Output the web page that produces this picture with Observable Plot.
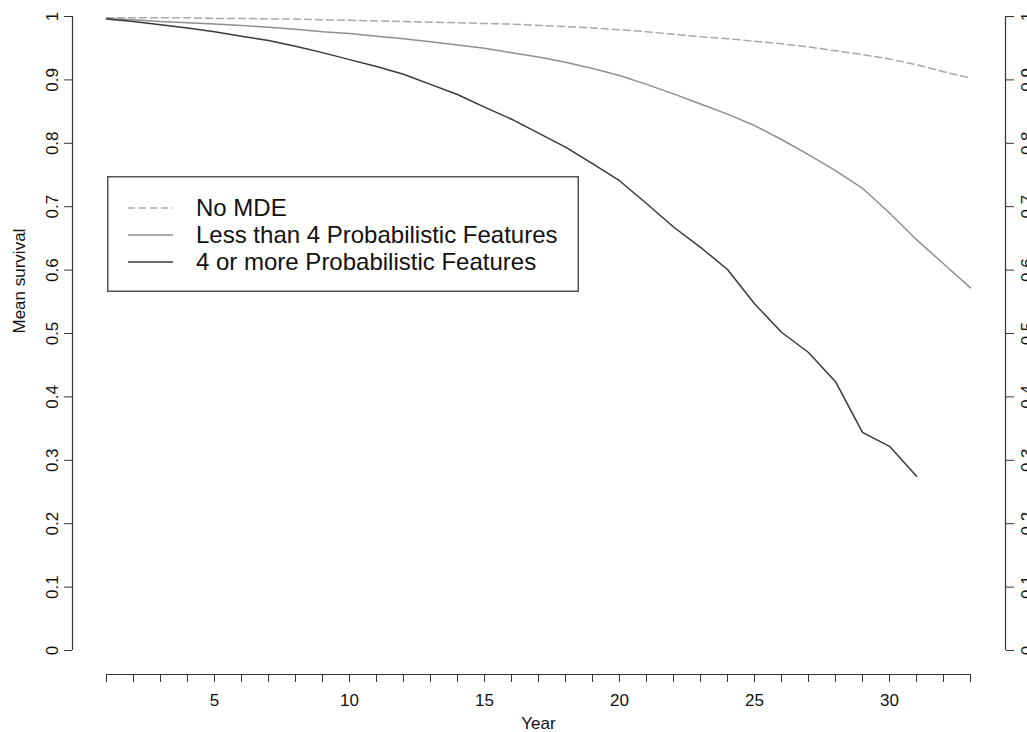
<!DOCTYPE html>
<html>
<head>
<meta charset="utf-8">
<script src="https://cdn.jsdelivr.net/npm/d3@7"></script>
<script src="https://cdn.jsdelivr.net/npm/@observablehq/plot@0.6"></script>
<style>
  html, body { margin: 0; padding: 0; background: #fff; }
  #wrap { position: relative; width: 1027px; height: 732px; overflow: hidden; font-family: "Liberation Sans", Arial, Helvetica, sans-serif; }
  #wrap svg { display: block; }
  #legend { position: absolute; left: 107px; top: 176px; }
</style>
</head>
<body>
<div id="wrap"></div>
<script>
// ---- data ----
const years = [1,2,3,4,5,6,7,8,9,10,11,12,13,14,15,16,17,18,19,20,21,22,23,24,25,26,27,28,29,30,31,32,33];

const noMDE = [0.998,0.998,0.998,0.998,0.997,0.997,0.996,0.996,0.995,0.994,
               0.993,0.992,0.991,0.990,0.989,0.988,0.986,0.984,0.982,0.979,
               0.976,0.972,0.968,0.965,0.961,0.957,0.952,0.946,0.940,0.933,
               0.924,0.913,0.903];

const lessThan4 = [0.997,0.995,0.992,0.990,0.988,0.986,0.983,0.980,0.976,0.973,
                   0.969,0.965,0.960,0.955,0.950,0.943,0.936,0.928,0.918,0.907,
                   0.893,0.878,0.862,0.846,0.828,0.806,0.782,0.757,0.729,0.690,
                   0.648,0.610,0.572];

const fourOrMore = [0.996,0.992,0.987,0.982,0.976,0.969,0.962,0.953,0.943,0.932,
                    0.921,0.909,0.893,0.877,0.857,0.838,0.816,0.794,0.768,0.741,
                    0.705,0.668,0.636,0.601,0.547,0.502,0.470,0.424,0.344,0.322,
                    0.275];

const seriesNames  = ["No MDE", "Less than 4 Probabilistic Features", "4 or more Probabilistic Features"];
const seriesValues = [noMDE, lessThan4, fourOrMore];
const seriesColors = ["#a8a8a8", "#8f8f8f", "#383838"];
const seriesDash   = ["7,4", null, null];

const yTicks = [0, 0.1, 0.2, 0.3, 0.4, 0.5, 0.6, 0.7, 0.8, 0.9, 1];
const yTickLabels = ["0", "0.1", "0.2", "0.3", "0.4", "0.5", "0.6", "0.7", "0.8", "0.9", "1"];
const xLabelYears = [5, 10, 15, 20, 25, 30];

const xTitle = "Year";
const yTitle = "Mean survival";

// ---- build rows ----
const rows = [];
seriesValues.forEach((vals, i) => {
  vals.forEach((v, j) => rows.push({series: seriesNames[i], year: years[j], value: v}));
});

const axisColor = "#333";
const fs = 17;

const marks = [
  // axis lines (R-style, detached from the data region)
  Plot.ruleX([years[0]], {dx: -34, stroke: axisColor, strokeWidth: 1.2}),
  Plot.ruleX([years[years.length - 1]], {dx: 35, stroke: axisColor, strokeWidth: 1.2}),
  Plot.ruleY([yTicks[0]], {dy: 24, stroke: axisColor, strokeWidth: 1.2}),
  Plot.axisX({
    anchor: "bottom", ticks: years, tickSize: 8, tickPadding: 11, dy: 24,
    tickFormat: d => xLabelYears.includes(d) ? String(d) : "",
    fontSize: fs, label: null, stroke: axisColor
  }),
  Plot.axisY({
    anchor: "left", ticks: yTicks, tickSize: 8, tickPadding: 7, dx: -34,
    tickRotate: -90, textAnchor: "middle", lineAnchor: "bottom",
    tickFormat: d => yTickLabels[yTicks.indexOf(d)],
    fontSize: fs, label: null, stroke: axisColor
  }),
  Plot.axisY({
    anchor: "right", ticks: yTicks, tickSize: 8, tickPadding: 7, dx: 35,
    tickRotate: -90, textAnchor: "middle", lineAnchor: "top",
    tickFormat: d => yTickLabels[yTicks.indexOf(d)],
    fontSize: fs, label: null, stroke: axisColor
  }),
  Plot.text([xTitle], {frameAnchor: "bottom", dy: 78, fontSize: fs, fill: "#111"}),
  Plot.text([yTitle], {frameAnchor: "left", dx: -87, rotate: -90, fontSize: fs, fill: "#111"})
];

seriesNames.forEach((name, i) => {
  marks.push(Plot.line(rows.filter(r => r.series === name), {
    x: "year", y: "value",
    stroke: seriesColors[i],
    strokeWidth: 1.5,
    strokeDasharray: seriesDash[i] || undefined
  }));
});

const chart = Plot.plot({
  width: 1027,
  height: 732,
  marginLeft: 106,
  marginRight: 57,
  marginTop: 16,
  marginBottom: 82,
  x: {domain: [years[0], years[years.length - 1]]},
  y: {domain: [yTicks[0], yTicks[yTicks.length - 1]]},
  style: {fontFamily: "'Liberation Sans', Arial, Helvetica, sans-serif", fontSize: fs + "px", color: "#111", background: "#fff", overflow: "visible"},
  marks
});

const wrap = document.getElementById("wrap");
wrap.appendChild(chart);

// ---- legend (R-style box) ----
const lw = 472, lh = 116;
const legend = d3.create("svg")
  .attr("id", "legend")
  .attr("width", lw)
  .attr("height", lh);
legend.append("rect")
  .attr("x", 0.75).attr("y", 0.75)
  .attr("width", lw - 1.5).attr("height", lh - 1.5)
  .attr("fill", "#fff").attr("stroke", "#555").attr("stroke-width", 1.5);
const rowY = [32, 59, 86];
seriesNames.forEach((name, i) => {
  legend.append("line")
    .attr("x1", 21).attr("x2", 66)
    .attr("y1", rowY[i]).attr("y2", rowY[i])
    .attr("stroke", seriesColors[i]).attr("stroke-width", 1.5)
    .attr("stroke-dasharray", seriesDash[i]);
  legend.append("text")
    .attr("x", 89).attr("y", rowY[i]).attr("dy", "0.35em")
    .attr("font-size", 24)
    .attr("font-family", "'Liberation Sans', Arial, Helvetica, sans-serif")
    .attr("fill", "#111")
    .text(name);
});
wrap.appendChild(legend.node());
</script>
</body>
</html>
